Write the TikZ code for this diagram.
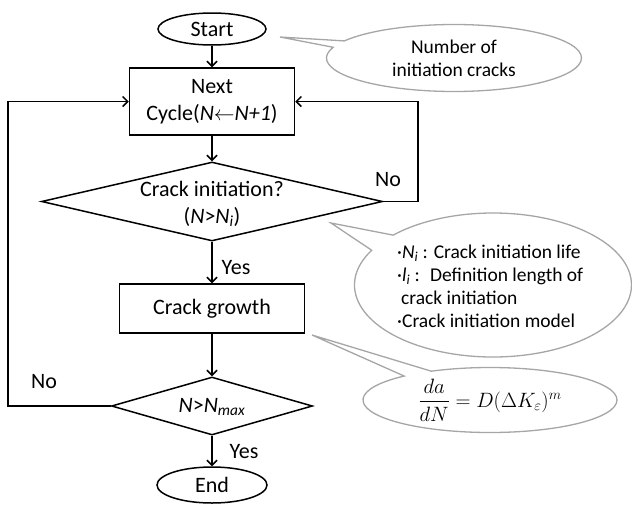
\documentclass[tikz,border=0pt]{standalone}
\usepackage{amsmath, amsfonts}
\usepackage{fontspec}
\setmainfont{Carlito}
\usetikzlibrary{shapes.geometric, shapes.callouts, arrows.meta}

\begin{document}
\begin{tikzpicture}[x=1pt, y=-1pt,
  font=\fontsize{22}{27}\selectfont,
  >={Straight Barb[length=5pt,width=10pt]},
  flow/.style={line width=1.5pt, draw=black},
  term/.style={ellipse, flow, inner sep=0pt},
  proc/.style={rectangle, flow, align=center, inner sep=0pt},
  dec/.style={diamond, flow, inner sep=0pt},
  note/.style={ellipse callout, draw=gray!70, line width=1.3pt, fill=white,
    inner sep=0pt, font=\fontsize{19.5}{23}\selectfont}]

\useasboundingbox (0,0) rectangle (632,504);

\coordinate (tip_1) at (280,37);
\coordinate (tip_2) at (331,223);
\coordinate (tip_3) at (312,335);

\node [note, callout absolute pointer={(tip_1)}, callout pointer arc=12,
  minimum width=255, minimum height=67, align=center] (note_1) at (454,58)
  {Number of\\initiation cracks};
\node [note, callout absolute pointer={(tip_2)},
  minimum width=277, minimum height=144] (note_2) at (493,285) {};
\node [anchor=west, align=left, inner sep=0pt, font=\fontsize{19.5}{23}\selectfont] (list) at (397,286)
  {·\textit{N}\textsubscript{\textit{i}} : Crack initiation life\\
   ·\textit{l}\textsubscript{\textit{i}} :~ Definition length of\\
   \hspace{4pt}crack initiation\\
   ·Crack initiation model};
\node [note, callout absolute pointer={(tip_3)},
  minimum width=254, minimum height=65, font=\fontsize{22}{27}\selectfont] (note_3) at (490,400)
  {$\dfrac{da}{dN} = D(\Delta K_{\varepsilon})^{m}$};

\node [term, minimum width=108, minimum height=32] (start) at (212,29) {Start};
\node [proc, minimum width=165, minimum height=67] (next) at (212,101.5)
  {Next\\Cycle(\textit{N}$\leftarrow$\textit{N+1})};
\node [dec, minimum width=341, minimum height=79] (init) at (212,201.5) {};
\node [align=center] (init_txt) at (212,204)
  {Crack initiation?\\(\textit{N}>\textit{N}\textsubscript{\textit{i}})};
\node [proc, minimum width=185, minimum height=49] (growth) at (212,308.5) {Crack growth};
\node [dec, minimum width=201, minimum height=58] (check) at (212,406) {};
\node (check_txt) at (212,407) {\textit{N}>\textit{N}\textsubscript{\textit{max}}};
\node [term, minimum width=110, minimum height=36] (end) at (212,485) {End};

\node (yes_1) at (236,268) {Yes};
\node (yes_2) at (244,452) {Yes};
\node (no_1) at (388,180) {No};
\node (no_2) at (44,382) {No};

\coordinate (rt) at (418,201.5);
\coordinate (lf) at (8,406);

\draw[->, flow] (start)--(next);
\draw[->, flow] (next)--(init);
\draw[->, flow] (init)--(growth);
\draw[->, flow] (growth)--(check);
\draw[->, flow] (check)--(end);

\draw[->, flow] (init.east)--(rt)|-(next.east);
\draw[->, flow] (check.west)--(lf)|-(next.west);

\end{tikzpicture}
\end{document}
